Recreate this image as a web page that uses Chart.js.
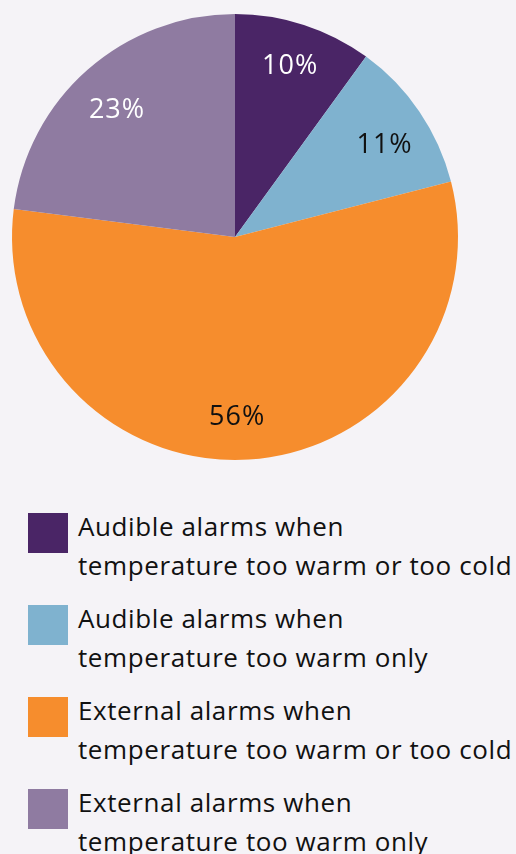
<!DOCTYPE html>
<html>
<head>
<meta charset="utf-8">
<script src="https://cdn.jsdelivr.net/npm/chart.js@4/dist/chart.umd.min.js"></script>
<style>
  html, body { margin: 0; padding: 0; background: #f5f3f7; }
  body { width: 516px; height: 854px; overflow: hidden; font-family: "Open Sans", "DejaVu Sans", sans-serif; }
  #wrap { position: relative; width: 516px; height: 480px; }
  #legend { list-style: none; margin: 0; padding: 0; position: absolute; left: 28px; top: 511px; }
  #legend li { position: relative; height: 92px; padding-left: 50px; color: #111; font-size: 26px; letter-spacing: 0.6px; line-height: 39px; white-space: nowrap; }
  #legend .sw { position: absolute; left: 0; top: 2px; width: 40px; height: 40px; }
  #legend .txt { position: relative; top: -4px; }
</style>
</head>
<body>
<div id="wrap"><canvas id="pie" width="516" height="480"></canvas></div>
<ul id="legend"></ul>
<script>
// Alarm types (each label split into its two printed lines)
const categories = [
  ["Audible alarms when", "temperature too warm or too cold"],
  ["Audible alarms when", "temperature too warm only"],
  ["External alarms when", "temperature too warm or too cold"],
  ["External alarms when", "temperature too warm only"]
];
// Share of respondents, %
const shares = [10, 11, 56, 23];
const sliceColors = ["#4a2566", "#7fb2cf", "#f68d2d", "#8f7ba1"];
const labelColors = ["#ffffff", "#111111", "#111111", "#ffffff"];

// Writes the percentage inside each slice, at 80% of the radius,
// with a small hand nudge so each label sits clear of the slice edges
const labelNudge = [[0, -1], [2, 9], [-9, 2], [0, 7]];
const sliceLabels = {
  id: "sliceLabels",
  afterDatasetsDraw(chart) {
    const ctx = chart.ctx;
    const meta = chart.getDatasetMeta(0);
    ctx.save();
    ctx.font = '27px "Open Sans", "DejaVu Sans", sans-serif';
    ctx.letterSpacing = "1px";
    ctx.textAlign = "center";
    ctx.textBaseline = "middle";
    meta.data.forEach((arc, i) => {
      const p = arc.getProps(["x", "y", "startAngle", "endAngle", "outerRadius"], true);
      const mid = (p.startAngle + p.endAngle) / 2;
      const r = p.outerRadius * 0.8;
      ctx.fillStyle = labelColors[i];
      ctx.fillText(shares[i] + "%",
        p.x + Math.cos(mid) * r + labelNudge[i][0],
        p.y + Math.sin(mid) * r + labelNudge[i][1]);
    });
    ctx.restore();
  }
};

new Chart(document.getElementById("pie"), {
  type: "pie",
  data: {
    labels: categories.map(c => c.join(" ")),
    datasets: [{
      data: shares,
      backgroundColor: sliceColors,
      borderWidth: 0
    }]
  },
  options: {
    responsive: false,
    animation: false,
    layout: { padding: { left: 12, right: 58, top: 14, bottom: 20 } },
    plugins: { legend: { display: false }, tooltip: { enabled: false } }
  },
  plugins: [sliceLabels]
});

// Legend below the pie
const legend = document.getElementById("legend");
categories.forEach((lines, i) => {
  const li = document.createElement("li");
  const sw = document.createElement("span");
  sw.className = "sw";
  sw.style.background = sliceColors[i];
  const txt = document.createElement("div");
  txt.className = "txt";
  txt.innerHTML = lines.join("<br>");
  li.appendChild(sw);
  li.appendChild(txt);
  legend.appendChild(li);
});
</script>
</body>
</html>
